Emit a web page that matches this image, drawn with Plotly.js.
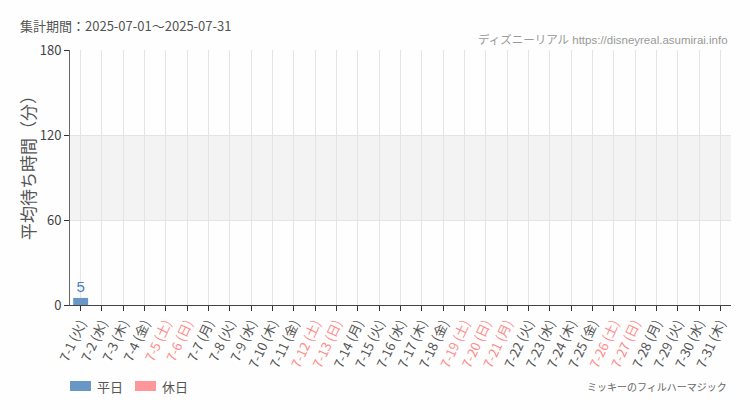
<!DOCTYPE html>
<html>
<head>
<meta charset="utf-8">
<script src="https://cdn.plot.ly/plotly-3.0.1.min.js"></script>
<style>
    html, body { margin: 0; padding: 0; background: #fdfefd; }
    #chart { width: 750px; height: 410px; }
</style>
</head>
<body>
<div id="chart"></div>
<script>
// 集計対象の日付と曜日
const dates = ["7-1", "7-2", "7-3", "7-4", "7-5", "7-6", "7-7", "7-8", "7-9", "7-10",
    "7-11", "7-12", "7-13", "7-14", "7-15", "7-16", "7-17", "7-18", "7-19", "7-20",
    "7-21", "7-22", "7-23", "7-24", "7-25", "7-26", "7-27", "7-28", "7-29", "7-30", "7-31"]
const weekdays = ["火", "水", "木", "金", "土", "日", "月", "火", "水", "木",
    "金", "土", "日", "月", "火", "水", "木", "金", "土", "日",
    "月", "火", "水", "木", "金", "土", "日", "月", "火", "水", "木"]
// 土日祝 (7-21 は海の日)
const holidays = [0, 0, 0, 0, 1, 1, 0, 0, 0, 0,
    0, 1, 1, 0, 0, 0, 0, 0, 1, 1,
    1, 0, 0, 0, 0, 1, 1, 0, 0, 0, 0]
// 平均待ち時間（分）, データなしは null
const waitTimes = [5, null, null, null, null, null, null, null, null, null,
    null, null, null, null, null, null, null, null, null, null,
    null, null, null, null, null, null, null, null, null, null, null]

const yTicks = [0, 60, 120, 180]

const weekdayColor = "#6a98c6"
const holidayColor = "#ff9699"

const weekdayValues = waitTimes.map((v, i) => holidays[i] ? null : v)
const holidayValues = waitTimes.map((v, i) => holidays[i] ? v : null)

const tickText = dates.map((d, i) => {
    const color = holidays[i] ? "#ff8c8c" : "#555555"
    return `<span style="color:${color}">${d} (${weekdays[i]})</span>`
})

const labelFont = { family: "Liberation Sans, sans-serif", size: 15, color: "#4a7fbf" }

const traces = [
    {
        x: dates,
        y: weekdayValues,
        type: "bar",
        name: "平日",
        marker: { color: weekdayColor },
        width: 0.7,
        text: weekdayValues.map(v => v == null ? "" : String(v)),
        textposition: "outside",
        textfont: labelFont,
        cliponaxis: false,
    },
    {
        x: dates,
        y: holidayValues,
        type: "bar",
        name: "休日",
        marker: { color: holidayColor },
        width: 0.7,
        text: holidayValues.map(v => v == null ? "" : String(v)),
        textposition: "outside",
        textfont: labelFont,
        cliponaxis: false,
    },
]

// pixel -> paper helpers (plot area is 661 x 255, starting at 70,50)
const px = x => (x - 70) / 661
const py = y => (305 - y) / 255

// legend drawn by hand so the swatches are wide bars like the original
const legendShapes = [
    { color: weekdayColor, x0: 70, x1: 91 },
    { color: holidayColor, x0: 135, x1: 156 },
].map(s => ({
    type: "rect",
    xref: "paper",
    yref: "paper",
    x0: px(s.x0),
    x1: px(s.x1),
    y0: py(391),
    y1: py(381),
    fillcolor: s.color,
    line: { width: 0 },
}))

const legendLabels = [
    { text: traces[0].name, x: 95 },
    { text: traces[1].name, x: 160 },
].map(l => ({
    text: l.text,
    xref: "paper",
    yref: "paper",
    x: px(l.x),
    xanchor: "left",
    y: py(386),
    yanchor: "middle",
    showarrow: false,
    font: { size: 13, color: "#555555" },
}))

const layout = {
    width: 750,
    height: 410,
    paper_bgcolor: "#fdfefd",
    plot_bgcolor: "#fdfefd",
    font: { family: "Noto Sans CJK JP, Noto Sans, sans-serif", size: 12, color: "#555555" },
    margin: { l: 70, r: 19, t: 50, b: 105 },
    barmode: "overlay",
    showlegend: false,
    title: {
        text: "集計期間：2025-07-01～2025-07-31",
        x: 20 / 750,
        xanchor: "left",
        xref: "container",
        y: 1 - 26 / 410,
        yanchor: "middle",
        yref: "container",
        font: { size: 13, color: "#555555" },
    },
    xaxis: {
        type: "category",
        tickmode: "array",
        tickvals: dates,
        ticktext: tickText,
        tickangle: -65,
        tickfont: { size: 13 },
        ticks: "outside",
        ticklen: 5,
        tickcolor: "#333333",
        showgrid: true,
        gridcolor: "#e4e4e4",
        linecolor: "#444444",
        showline: true,
        zeroline: false,
        automargin: false,
        fixedrange: true,
    },
    yaxis: {
        range: [0, 180],
        tickmode: "array",
        tickvals: yTicks,
        ticks: "outside",
        ticklen: 5,
        tickcolor: "#333333",
        tickfont: { size: 13, color: "#444444" },
        showgrid: true,
        gridcolor: "#e4e4e4",
        showline: true,
        linecolor: "#666666",
        zeroline: false,
        automargin: false,
        fixedrange: true,
    },
    shapes: [
        {
            type: "rect",
            xref: "paper",
            x0: 0,
            x1: 1,
            yref: "y",
            y0: yTicks[1],
            y1: yTicks[2],
            fillcolor: "#f3f3f3",
            line: { width: 0 },
            layer: "below",
        },
        ...legendShapes,
    ],
    annotations: [
        {
            // y axis title
            text: "平均待ち時間（分）",
            xref: "paper",
            yref: "paper",
            x: px(27),
            xanchor: "center",
            y: py(164),
            yanchor: "middle",
            textangle: -90,
            showarrow: false,
            font: { size: 17, color: "#555555" },
        },
        {
            text: "ディズニーリアル https://disneyreal.asumirai.info",
            xref: "paper",
            yref: "paper",
            x: px(730),
            xanchor: "right",
            y: py(40),
            yanchor: "middle",
            showarrow: false,
            font: { family: "Liberation Sans, Noto Sans CJK JP, sans-serif", size: 11.5, color: "#999999" },
        },
        {
            text: "ミッキーのフィルハーマジック",
            xref: "paper",
            yref: "paper",
            x: px(729),
            xanchor: "right",
            y: py(386),
            yanchor: "middle",
            showarrow: false,
            font: { size: 10, color: "#666666" },
        },
        ...legendLabels,
    ],
}

const config = { responsive: false, displayModeBar: false, staticPlot: true }

window.Plotly.newPlot("chart", traces, layout, config)
</script>
</body>
</html>
